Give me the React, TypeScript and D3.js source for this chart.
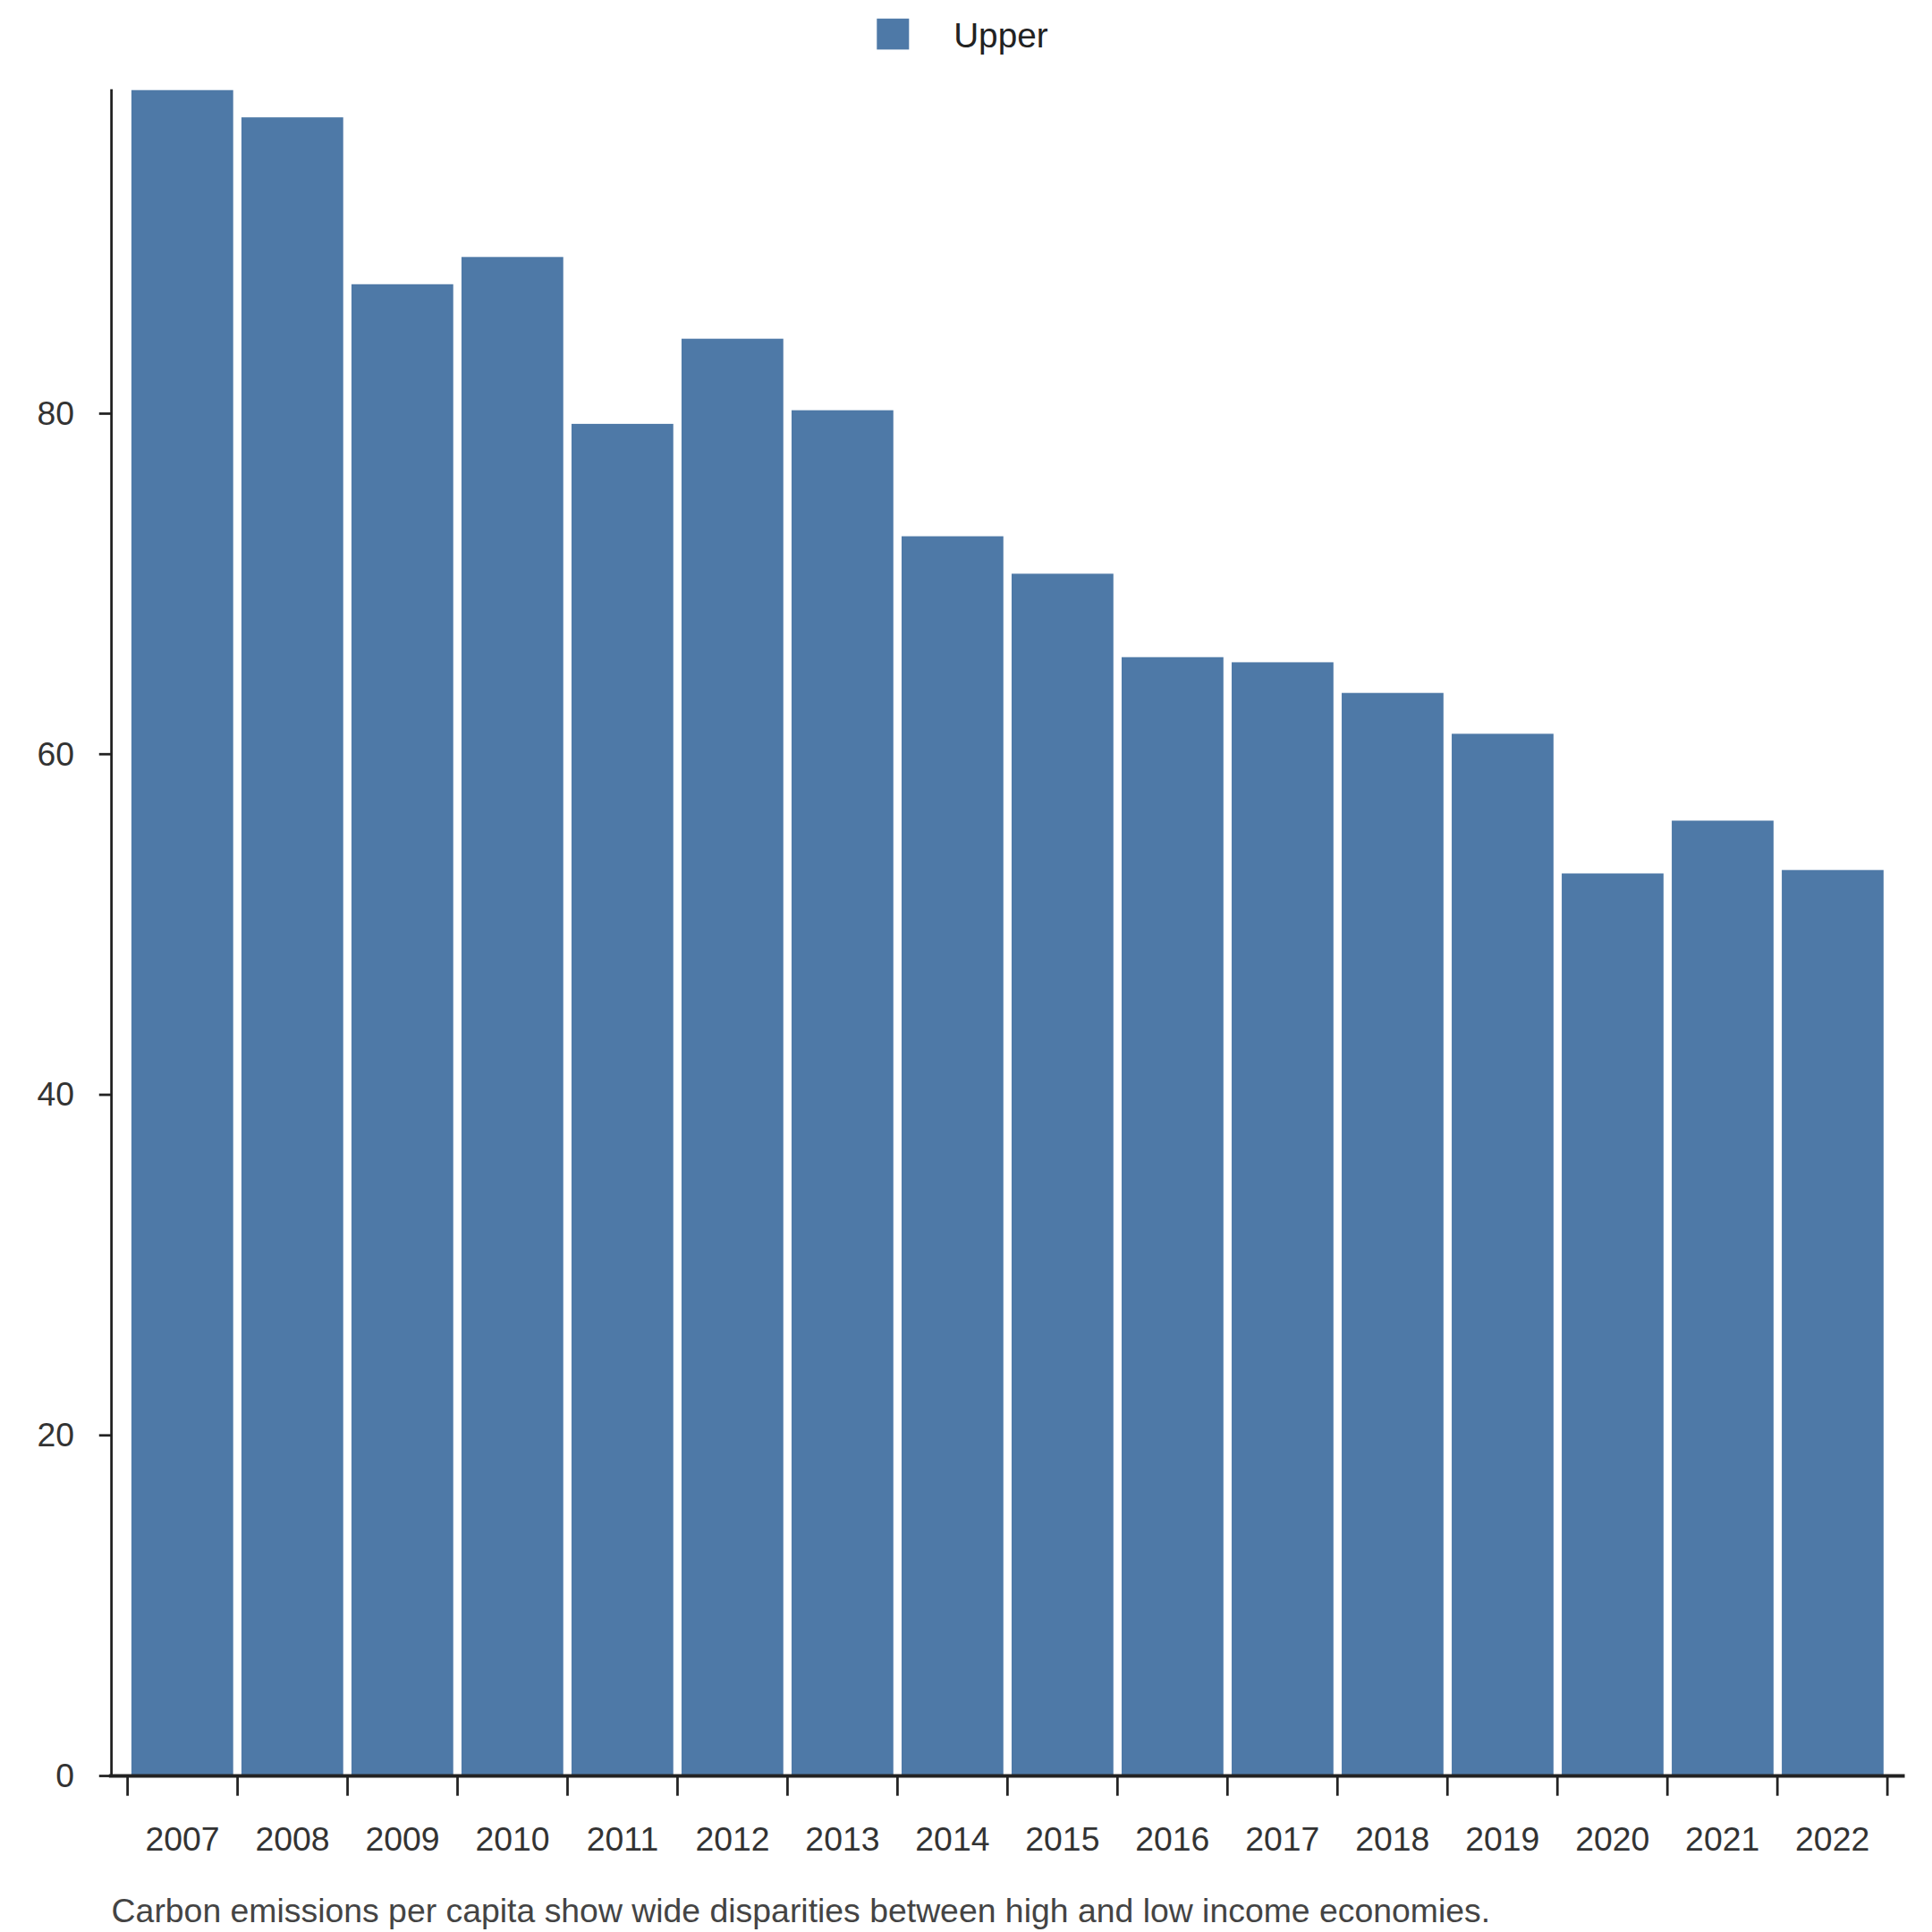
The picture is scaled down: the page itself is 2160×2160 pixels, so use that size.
import React from "react";
import * as d3 from "d3";

const years = ["2007", "2008", "2009", "2010", "2011", "2012", "2013", "2014", "2015", "2016", "2017", "2018", "2019", "2020", "2021", "2022"];
const upper = [99.0, 97.4, 87.6, 89.2, 79.4, 84.4, 80.2, 72.8, 70.6, 65.7, 65.4, 63.6, 61.2, 53.0, 56.1, 53.2];
const yTicks = [0, 20, 40, 60, 80];

const W = 1560;
const font = "Arial, 'Liberation Sans', sans-serif";

const App = () => {
  const x = d3.scaleBand().domain(years).range([103, 1524]).paddingInner(0.075).paddingOuter(0.035);
  const xb = d3.scaleBand().domain(years).range([103, 1524]);
  const y = d3.scaleLinear().domain([0, 80]).range([1434, 334]);

  return (
    <svg
      width={2160}
      height={2160}
      viewBox={`0 0 ${W} ${W}`}
      style={{ position: "absolute", left: 0, top: 0, background: "#fff" }}
      fontFamily={font}
    >
      {/* legend */}
      <rect x={708} y={15} width={26} height={25} fill="#4e79a7" />
      <text x={770} y={38} fontSize={28} fill="#222">Upper</text>

      {years.map((yr, i) => (
        <rect key={yr} x={x(yr)} y={y(upper[i])} width={x.bandwidth()} height={y(0) - y(upper[i])} fill="#4e79a7" />
      ))}

      {/* y axis */}
      <line x1={90} x2={90} y1={72} y2={1434} stroke="#222" strokeWidth={2} />
      {yTicks.map((t) => (
        <g key={t}>
          <line x1={80} x2={90} y1={y(t)} y2={y(t)} stroke="#222" strokeWidth={2} />
          <text x={60} y={y(t) + 9} textAnchor="end" fontSize={27} fill="#333">{t}</text>
        </g>
      ))}

      {/* x axis */}
      <line x1={88} x2={1538} y1={1434} y2={1434} stroke="#222" strokeWidth={3} />
      {years.concat(["end"]).map((yr, i) => {
        const px = i < years.length ? (xb(yr) as number) : 1524;
        return <line key={yr} x1={px} x2={px} y1={1434} y2={1450} stroke="#222" strokeWidth={2} />;
      })}
      {years.map((yr) => (
        <text key={yr} x={(xb(yr) as number) + xb.bandwidth() / 2} y={1494} textAnchor="middle" fontSize={27} fill="#333">
          {yr}
        </text>
      ))}

      <text x={90} y={1552} fontSize={27} fill="#444">
        Carbon emissions per capita show wide disparities between high and low income economies.
      </text>
    </svg>
  );
};

export default App;
